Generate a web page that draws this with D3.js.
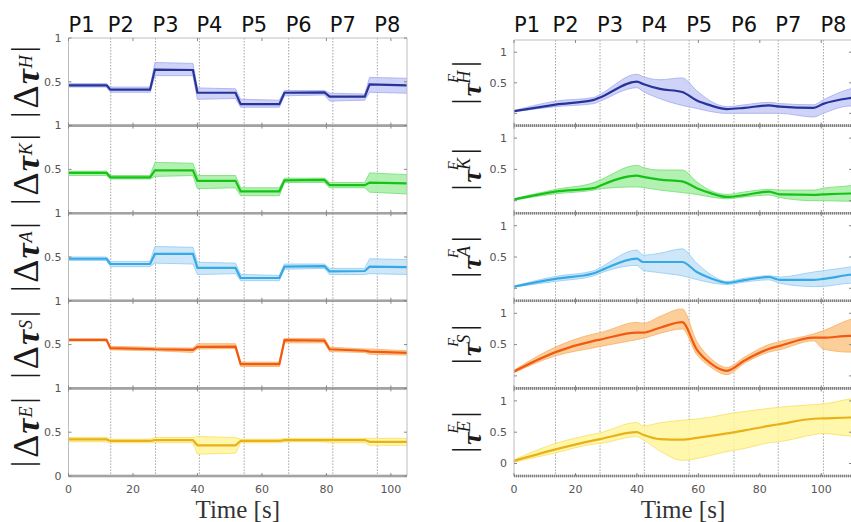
<!DOCTYPE html>
<html><head><meta charset="utf-8">
<script src="https://cdn.jsdelivr.net/npm/d3@7"></script>
<style>body{margin:0;background:#fff}svg{display:block}</style>
</head><body><svg id="c" width="851" height="522"></svg>
<script>
// ---------------- data ----------------
const phaseLabels = ["P1","P2","P3","P4","P5","P6","P7","P8"];
const leftPhaseTimes = [13.1, 27, 40.6, 54.5, 68.3, 82, 95.8];
const rightPhaseTimes = [13.5, 28, 42.4, 57, 71.6, 86, 100.7];
const xTickValues = [0, 20, 40, 60, 80, 100];
const yTickValues = [0, 0.5, 1];
const jointNames = ["H", "K", "A", "S", "E"];

// left column: |Δτ| per joint (mean, lower, upper)
const leftTime = [0, 11.8, 13.0, 25.3, 26.8, 38.6, 40.0, 51.8, 53.4, 65.4, 67.0, 79.4, 81.0, 91.9, 93.4, 105];
const leftMeanH = [0.46,0.46, 0.41,0.41, 0.64,0.635, 0.375,0.375, 0.245,0.245, 0.375,0.38, 0.33,0.33, 0.47,0.46];
const leftLowH  = [0.44,0.44, 0.38,0.38, 0.57,0.57, 0.30,0.31, 0.21,0.21, 0.34,0.35, 0.28,0.29, 0.38,0.37];
const leftHighH = [0.48,0.48, 0.44,0.44, 0.72,0.71, 0.43,0.42, 0.30,0.29, 0.40,0.40, 0.37,0.36, 0.55,0.54];
const leftMeanK = [0.46,0.46, 0.41,0.41, 0.49,0.49, 0.37,0.37, 0.25,0.25, 0.375,0.38, 0.32,0.32, 0.35,0.34];
const leftLowK  = [0.43,0.43, 0.39,0.39, 0.42,0.43, 0.28,0.29, 0.20,0.20, 0.35,0.35, 0.29,0.29, 0.24,0.22];
const leftHighK = [0.48,0.48, 0.43,0.43, 0.58,0.57, 0.43,0.43, 0.29,0.29, 0.40,0.40, 0.35,0.35, 0.46,0.44];
const leftMeanA = [0.48,0.48, 0.42,0.42, 0.535,0.535, 0.375,0.375, 0.26,0.26, 0.39,0.395, 0.335,0.34, 0.39,0.385];
const leftLowA  = [0.46,0.46, 0.39,0.39, 0.43,0.42, 0.30,0.31, 0.23,0.23, 0.36,0.37, 0.30,0.30, 0.31,0.30];
const leftHighA = [0.50,0.50, 0.45,0.45, 0.62,0.61, 0.44,0.43, 0.30,0.29, 0.42,0.42, 0.37,0.37, 0.48,0.47];
const leftMeanS = [0.553,0.553, 0.46,0.45, 0.447,0.44, 0.475,0.477, 0.278,0.278, 0.55,0.545, 0.447,0.43, 0.42,0.405];
const leftLowS  = [0.54,0.54, 0.44,0.43, 0.43,0.41, 0.45,0.455, 0.25,0.25, 0.52,0.52, 0.42,0.41, 0.39,0.38];
const leftHighS = [0.565,0.565, 0.48,0.47, 0.465,0.46, 0.51,0.51, 0.30,0.30, 0.57,0.57, 0.47,0.45, 0.45,0.43];
const leftMeanE = [0.417,0.417, 0.40,0.40, 0.41,0.41, 0.35,0.35, 0.40,0.40, 0.41,0.41, 0.41,0.41, 0.39,0.39];
const leftLowE  = [0.39,0.39, 0.38,0.38, 0.38,0.38, 0.25,0.26, 0.38,0.38, 0.39,0.39, 0.38,0.38, 0.35,0.35];
const leftHighE = [0.44,0.44, 0.42,0.42, 0.44,0.44, 0.45,0.44, 0.42,0.42, 0.43,0.43, 0.43,0.43, 0.43,0.43];

// right column: |τ^F| per joint (mean, lower, upper)
const rightTime = [0, 13.5, 26, 28, 40, 42, 47.5, 54.7, 59.5, 64, 69.3, 75, 82.9, 86.6, 97.5, 100.6, 109.3, 110];
const rightMeanH = [0.035,0.144,0.22,0.26,0.52,0.48,0.40,0.35,0.21,0.13,0.07,0.09,0.13,0.11,0.09,0.155,0.25,0.255];
const rightLowH  = [0.025,0.11,0.16,0.20,0.42,0.36,0.24,0.13,0.08,0.03,0.0,0.0,0.0,0.0,-0.06,0.0,0.12,0.12];
const rightHighH = [0.045,0.20,0.26,0.31,0.64,0.60,0.55,0.58,0.37,0.20,0.11,0.14,0.18,0.16,0.14,0.22,0.40,0.41];
const rightMeanK = [0.02,0.146,0.20,0.24,0.40,0.38,0.337,0.31,0.20,0.12,0.06,0.09,0.146,0.10,0.093,0.10,0.115,0.115];
const rightLowK  = [0.01,0.11,0.17,0.19,0.22,0.21,0.17,0.13,0.10,0.06,0.03,0.06,0.09,0.05,0.0,0.0,-0.01,-0.01];
const rightHighK = [0.03,0.18,0.29,0.33,0.565,0.53,0.49,0.49,0.30,0.16,0.10,0.14,0.18,0.17,0.17,0.20,0.24,0.245];
const rightMeanA = [0.027,0.15,0.24,0.28,0.475,0.42,0.42,0.42,0.26,0.16,0.087,0.13,0.18,0.135,0.135,0.15,0.216,0.22];
const rightLowA  = [0.02,0.11,0.20,0.24,0.366,0.29,0.25,0.20,0.14,0.09,0.06,0.10,0.135,0.08,0.027,0.03,0.08,0.08];
const rightHighA = [0.035,0.19,0.28,0.33,0.61,0.53,0.56,0.63,0.40,0.22,0.11,0.16,0.20,0.18,0.26,0.28,0.34,0.345];
const rightMeanS = [0.07,0.38,0.56,0.58,0.69,0.69,0.77,0.86,0.42,0.20,0.08,0.245,0.43,0.48,0.61,0.61,0.64,0.64];
const rightLowS  = [0.05,0.32,0.45,0.47,0.58,0.60,0.68,0.75,0.34,0.14,0.02,0.20,0.38,0.42,0.56,0.43,0.38,0.38];
const rightHighS = [0.09,0.46,0.67,0.69,0.855,0.84,0.95,1.07,0.55,0.28,0.135,0.30,0.50,0.55,0.67,0.72,0.90,0.91];
const rightMeanE = [0.04,0.225,0.37,0.39,0.50,0.46,0.39,0.38,0.41,0.44,0.48,0.53,0.60,0.63,0.715,0.72,0.735,0.735];
const rightLowE  = [0.02,0.17,0.31,0.32,0.43,0.38,0.20,0.05,0.08,0.13,0.19,0.24,0.33,0.35,0.46,0.48,0.44,0.44];
const rightHighE = [0.06,0.32,0.47,0.49,0.655,0.60,0.65,0.69,0.71,0.74,0.79,0.83,0.88,0.90,0.94,0.95,1.03,1.035];

const leftSeries = {
  H: [leftMeanH, leftLowH, leftHighH], K: [leftMeanK, leftLowK, leftHighK],
  A: [leftMeanA, leftLowA, leftHighA], S: [leftMeanS, leftLowS, leftHighS],
  E: [leftMeanE, leftLowE, leftHighE]
};
const rightSeries = {
  H: [rightMeanH, rightLowH, rightHighH], K: [rightMeanK, rightLowK, rightHighK],
  A: [rightMeanA, rightLowA, rightHighA], S: [rightMeanS, rightLowS, rightHighS],
  E: [rightMeanE, rightLowE, rightHighE]
};

const palette = {
  H: {line:"#26339a", fill:"#c6cbf6", edge:"#a3aaf0"},
  K: {line:"#17c217", fill:"#a6efa6", edge:"#72de72"},
  A: {line:"#35a8e6", fill:"#c4e3f8", edge:"#8ecbf1"},
  S: {line:"#f05a12", fill:"#fcc788", edge:"#f7ad62"},
  E: {line:"#e9b019", fill:"#fff69e", edge:"#f6df62"}
};

// ---------------- layout ----------------
const svg = d3.select("#c");
const panelH = 87.6, top0 = 38;
const cols = [
  {name:"left", x0:68.5, x1:407, dom:[0,105], yDom:[0,1], phases:leftPhaseTimes, time:leftTime, series:leftSeries, curve:d3.curveLinear},
  {name:"right", x0:514, x1:852, dom:[0,110], yDom:[-0.2,1.2], phases:rightPhaseTimes, time:rightTime, series:rightSeries, curve:d3.curveMonotoneX}
];

cols.forEach((col, ci) => {
  const x = d3.scaleLinear().domain(col.dom).range([col.x0, col.x1]);
  jointNames.forEach((j, i) => {
    let yTop = top0 + i * panelH;
    if (ci === 1 && i === 0) yTop = 40;
    const yBot = top0 + (i + 1) * panelH;
    const y = d3.scaleLinear().domain(col.yDom).range([yBot, yTop]);
    const g = svg.append("g");
    const clipId = `clip-${col.name}-${j}`;
    svg.append("clipPath").attr("id", clipId).append("rect")
      .attr("x", col.x0).attr("y", yTop).attr("width", col.x1 - col.x0).attr("height", yBot - yTop);

    // phase lines
    g.selectAll("line.ph").data(col.phases).join("line")
      .attr("x1", d => x(d)).attr("x2", d => x(d)).attr("y1", yTop).attr("y2", yBot)
      .attr("stroke", "#8c8c8c").attr("stroke-width", 0.8).attr("stroke-dasharray", "1.5,1.5");

    const [mean, lo, hi] = col.series[j];
    const pts = col.time.map((t, k) => ({t, m: mean[k], l: lo[k], h: hi[k]}));
    const c = palette[j];
    const pg = g.append("g").attr("clip-path", `url(#${clipId})`);
    pg.append("path").datum(pts)
      .attr("d", d3.area().curve(col.curve).x(d => x(d.t)).y0(d => y(d.l)).y1(d => y(d.h)))
      .attr("fill", c.fill).attr("fill-opacity", 0.85);
    ["l","h"].forEach(k => {
      pg.append("path").datum(pts)
        .attr("d", d3.line().curve(col.curve).x(d => x(d.t)).y(d => y(d[k])))
        .attr("fill", "none").attr("stroke", c.edge).attr("stroke-width", 0.8);
    });
    pg.append("path").datum(pts)
      .attr("d", d3.line().curve(col.curve).x(d => x(d.t)).y(d => y(d.m)))
      .attr("fill", "none").attr("stroke", c.line).attr("stroke-width", 2.2);

    // frame sides
    g.append("line").attr("x1", col.x0).attr("x2", col.x0).attr("y1", yTop).attr("y2", yBot).attr("stroke", "#bdbdbd");
    g.append("line").attr("x1", col.x1).attr("x2", col.x1).attr("y1", yTop).attr("y2", yBot).attr("stroke", "#bdbdbd");
    if (i === 0) {
      g.append("line").attr("x1", col.x0).attr("x2", col.x1).attr("y1", yTop).attr("y2", yTop).attr("stroke", "#bdbdbd");
    }
    // bottom boundary (dotted)
    g.append("line").attr("x1", col.x0).attr("x2", col.x1).attr("y1", yBot).attr("y2", yBot)
      .attr("stroke", "#c8c8c8").attr("stroke-width", 2.6);
    g.append("line").attr("x1", col.x0).attr("x2", col.x1).attr("y1", yBot).attr("y2", yBot)
      .attr("stroke", "#7f7f7f").attr("stroke-width", 2.6).attr("stroke-dasharray", "1,1");

    // ticks
    xTickValues.forEach(v => {
      g.append("line").attr("x1", x(v)).attr("x2", x(v)).attr("y1", yBot).attr("y2", yBot - 3).attr("stroke", "#888");
      g.append("line").attr("x1", x(v)).attr("x2", x(v)).attr("y1", yTop).attr("y2", yTop + 3).attr("stroke", "#888");
    });
    const yt = i === 4 ? yTickValues : yTickValues.filter(v => v > 0);
    yTickValues.forEach(v => {
      if (y(v) < yTop - 0.5 || y(v) > yBot + 0.5) return;
      g.append("line").attr("x1", col.x0).attr("x2", col.x0 + 3).attr("y1", y(v)).attr("y2", y(v)).attr("stroke", "#888");
      g.append("line").attr("x1", col.x1).attr("x2", col.x1 - 3).attr("y1", y(v)).attr("y2", y(v)).attr("stroke", "#888");
    });
    g.selectAll("text.yt").data(yt).join("text")
      .attr("x", col.x0 - 7).attr("y", d => y(d)).attr("dy", "0.35em")
      .attr("text-anchor", "end").attr("font-family", "DejaVu Sans, sans-serif")
      .attr("font-size", 11).attr("fill", "#555").text(d => d3.format("~g")(d));

    // y label
    const cy = (yTop + yBot) / 2;
    if (ci === 0) {
      const t = svg.append("text")
        .attr("transform", `translate(39,${cy}) rotate(-90)`)
        .attr("text-anchor", "middle").attr("font-family", "Liberation Serif, serif")
        .attr("font-size", 34).attr("fill", "#1a1a1a");
      t.append("tspan").attr("font-size", 31).attr("dy", -6).text("|");
      t.append("tspan").attr("dx", 3).attr("dy", 5).attr("font-size", 36).text("Δ");
      t.append("tspan").attr("dx", 1).attr("dy", 1).attr("font-weight", "bold").attr("font-style", "italic").text("τ");
      t.append("tspan").attr("dx", 1).attr("font-style", "italic").attr("font-size", 18).attr("dy", -7).text(j);
      t.append("tspan").attr("dx", 3).attr("font-size", 31).attr("dy", 1).text("|");
    } else {
      const t = svg.append("text")
        .attr("transform", `translate(481,${cy}) rotate(-90)`)
        .attr("text-anchor", "middle").attr("font-family", "Liberation Serif, serif")
        .attr("font-size", 30).attr("fill", "#1a1a1a");
      t.append("tspan").attr("font-size", 32).attr("dy", -7).text("|");
      t.append("tspan").attr("dx", 2).attr("dy", 7).attr("font-size", 28).attr("font-weight", "bold").attr("font-style", "italic").text("τ");
      t.append("tspan").attr("font-style", "italic").attr("font-size", 18).attr("dy", -11).text(j);
      t.append("tspan").attr("font-style", "italic").attr("font-size", 14).attr("dx", -12).attr("dy", -12).text("F");
      t.append("tspan").attr("dx", 7).attr("font-size", 32).attr("dy", 16).text("|");
    }
  });

  // phase labels
  const labelX = [col.dom[0]].concat(col.phases);
  svg.selectAll(null).data(phaseLabels).join("text")
    .attr("x", (d, k) => k === 0 ? x(labelX[k]) : x(labelX[k]) - 3)
    .attr("y", 32).attr("font-family", "DejaVu Sans, sans-serif").attr("font-size", 21)
    .attr("fill", "#111").text(d => d);

  // x tick labels
  const yAxis = top0 + 5 * panelH;
  svg.selectAll(null).data(xTickValues).join("text")
    .attr("x", d => x(d)).attr("y", yAxis + 17).attr("text-anchor", "middle")
    .attr("font-family", "DejaVu Sans, sans-serif").attr("font-size", 11).attr("fill", "#555")
    .text(d => d);
  svg.append("text").attr("x", (col.x0 + col.x1) / 2).attr("y", 518).attr("text-anchor", "middle")
    .attr("font-family", "Liberation Serif, serif").attr("font-size", 25).attr("fill", "#333")
    .text("Time [s]");
});
</script></body></html>
